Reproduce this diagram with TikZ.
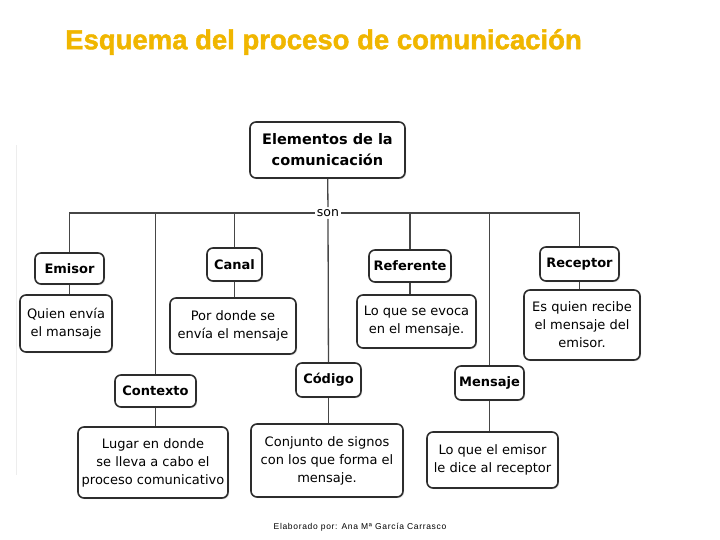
\documentclass[tikz,border=0pt]{standalone}
\usepackage{fontspec}
\setmainfont{DejaVu Sans}
\newfontfamily\titlefont[BoldFeatures={FakeBold=1.6}]{Liberation Sans}
\newfontfamily\creditfont[LetterSpace=8]{Liberation Sans}
\usetikzlibrary{shadows}
\definecolor{boxline}{RGB}{45,45,45}
\definecolor{linkline}{RGB}{70,70,70}
\definecolor{titlegold}{RGB}{240,182,0}
\tikzset{
  elem/.style={draw=boxline, line width=1.6pt, rounded corners=6pt, fill=white,
    align=center, inner sep=2pt,
    drop shadow={shadow xshift=1.2pt, shadow yshift=-1.2pt, opacity=0.25}},
  head/.style={elem, font=\bfseries\fontsize{13}{15}\selectfont},
  desc/.style={elem, font=\fontsize{13}{18}\selectfont},
  link/.style={draw=linkline, line width=1.3pt},
}
\begin{document}
\begin{tikzpicture}[x=1pt, y=-1pt]
  \useasboundingbox (0,0) rectangle (720,540);
  \draw[black!7, line width=1pt] (16,145) -- (16,475);
  % title
  \node[font=\titlefont\bfseries\fontsize{27.5}{30}\selectfont, text=titlegold] (title) at (323.5,42) {Esquema del proceso de comunicación};
  % root
  \node[elem, font=\bfseries\fontsize{14.5}{21}\selectfont, minimum width=155pt, minimum height=56pt] (elementos) at (327.5,150) {Elementos de la\\comunicación};
  \node[fill=white, inner sep=2pt, font=\fontsize{12.5}{14}\selectfont] (son) at (328,213) {son};
  % elements
  \node[head, minimum width=69pt, minimum height=31pt] (emisor) at (69.5,268.5) {Emisor};
  \node[head, minimum width=55pt, minimum height=33pt] (canal) at (234.5,264.5) {Canal};
  \node[head, minimum width=82pt, minimum height=32pt] (referente) at (410,266) {Referente};
  \node[head, minimum width=79pt, minimum height=34pt] (receptor) at (579.5,264) {Receptor};
  \node[head, minimum width=81pt, minimum height=32pt] (contexto) at (155.5,391) {Contexto};
  \node[head, minimum width=65pt, minimum height=34pt] (codigo) at (328.5,380) {Código};
  \node[head, minimum width=69pt, minimum height=34pt] (mensaje) at (489.5,383) {Mensaje};
  % descriptions
  \node[desc, minimum width=92pt, minimum height=57pt] (emisorTxt) at (66,323.5) {Quien envía\\el mansaje};
  \node[desc, minimum width=126pt, minimum height=56pt] (canalTxt) at (233,326) {Por donde se\\envía el mensaje};
  \node[desc, minimum width=119pt, minimum height=53pt] (referenteTxt) at (416.5,321.5) {Lo que se evoca\\en el mensaje.};
  \node[desc, minimum width=116pt, minimum height=70pt] (receptorTxt) at (582,325) {Es quien recibe\\el mensaje del\\emisor.};
  \node[desc, minimum width=150pt, minimum height=71pt] (contextoTxt) at (153,462.5) {Lugar en donde\\se lleva a cabo el\\proceso comunicativo};
  \node[desc, minimum width=152pt, minimum height=73pt] (codigoTxt) at (327,460.5) {Conjunto de signos\\con los que forma el\\mensaje.};
  \node[desc, minimum width=131pt, minimum height=56pt] (mensajeTxt) at (492.5,460) {Lo que el emisor\\le dice al receptor};
  % links
  \draw[link] (elementos) -- (son);
  \draw[link] (son) -- (codigo);
  \foreach \n in {emisor, contexto, canal}
    \draw[link] (\n.north) |- (son.west);
  \foreach \n in {referente, mensaje, receptor}
    \draw[link] (\n.north) |- (son.east);
  \foreach \n in {emisor, canal, referente, receptor, contexto, codigo, mensaje}
    \draw[link] (\n.south) -- (\n.south |- \n Txt.north);
  % credit
  \node[font=\creditfont\fontsize{8.5}{10}\selectfont] (credit) at (360,527) {Elaborado por: Ana Mª García Carrasco};
\end{tikzpicture}
\end{document}
